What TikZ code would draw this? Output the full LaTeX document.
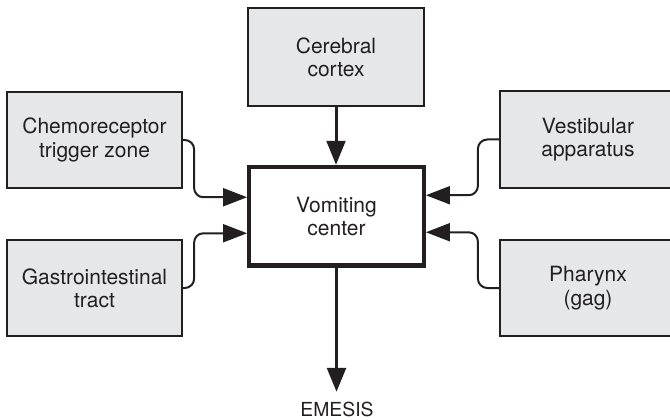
\documentclass[tikz,border=0pt]{standalone}
\usepackage{fontspec}
\setmainfont{TeX Gyre Heros}
\usetikzlibrary{arrows.meta,calc}
\definecolor{boxgray}{HTML}{E6E7E8}
\definecolor{ink}{HTML}{231F20}
\begin{document}
\begin{tikzpicture}[x=0.75pt,y=-0.75pt,
  srcbox/.style={draw=ink, line width=1.5pt, fill=boxgray, align=center,
    font=\fontsize{15.75}{17.5}\selectfont, text=ink, inner sep=0pt},
  centerbox/.style={draw=ink, line width=3.2pt, fill=white, align=center,
    font=\fontsize{15.75}{17.5}\selectfont, text=ink, inner sep=0pt},
  conn/.style={draw=ink, line width=1.5pt, rounded corners=7pt,
    -{Triangle[length=18pt,width=13.5pt]}},
  mainarrow/.style={draw=ink, -{Triangle[length=18pt,width=14pt]}},
  outtext/.style={font=\fontsize{14.5}{16}\selectfont, text=ink, inner sep=0pt}]
\useasboundingbox (0,0) rectangle (670,420);

\node[srcbox, minimum width=132pt, minimum height=73.5pt] (cortex) at (336,57) {Cerebral\\cortex};
\node[srcbox, minimum width=131.25pt, minimum height=72pt] (chemo) at (94.5,140) {Chemoreceptor\\trigger zone};
\node[srcbox, minimum width=131.25pt, minimum height=72pt] (gastro) at (94.5,288) {Gastrointestinal\\tract};
\node[srcbox, minimum width=132pt, minimum height=72.75pt] (vest) at (588,139.5) {Vestibular\\apparatus};
\node[srcbox, minimum width=132pt, minimum height=72pt] (phar) at (588,288) {Pharynx\\(gag)};
\node[centerbox, minimum width=130.9pt, minimum height=73.9pt] (vomit) at (336.5,216.25) {Vomiting\\center};
\node[outtext] (emesis) at (337,409.5) {EMESIS};

\draw[mainarrow, line width=2.25pt] (cortex.south) -- (cortex.south |- vomit.north);
\draw[mainarrow, line width=2.6pt] (vomit.south) -- (vomit.south |- emesis.north) [shorten >=7.5pt];

\draw[conn] (chemo.east) -| ($(vomit.west)+(-53,-19)$) -- ($(vomit.west)+(0,-19)$);
\draw[conn] (gastro.east) -| ($(vomit.west)+(-53,17)$) -- ($(vomit.west)+(0,17)$);
\draw[conn] (vest.west) -| ($(vomit.east)+(52,-21)$) -- ($(vomit.east)+(0,-21)$);
\draw[conn] (phar.west) -| ($(vomit.east)+(52,16)$) -- ($(vomit.east)+(0,16)$);
\end{tikzpicture}
\end{document}
